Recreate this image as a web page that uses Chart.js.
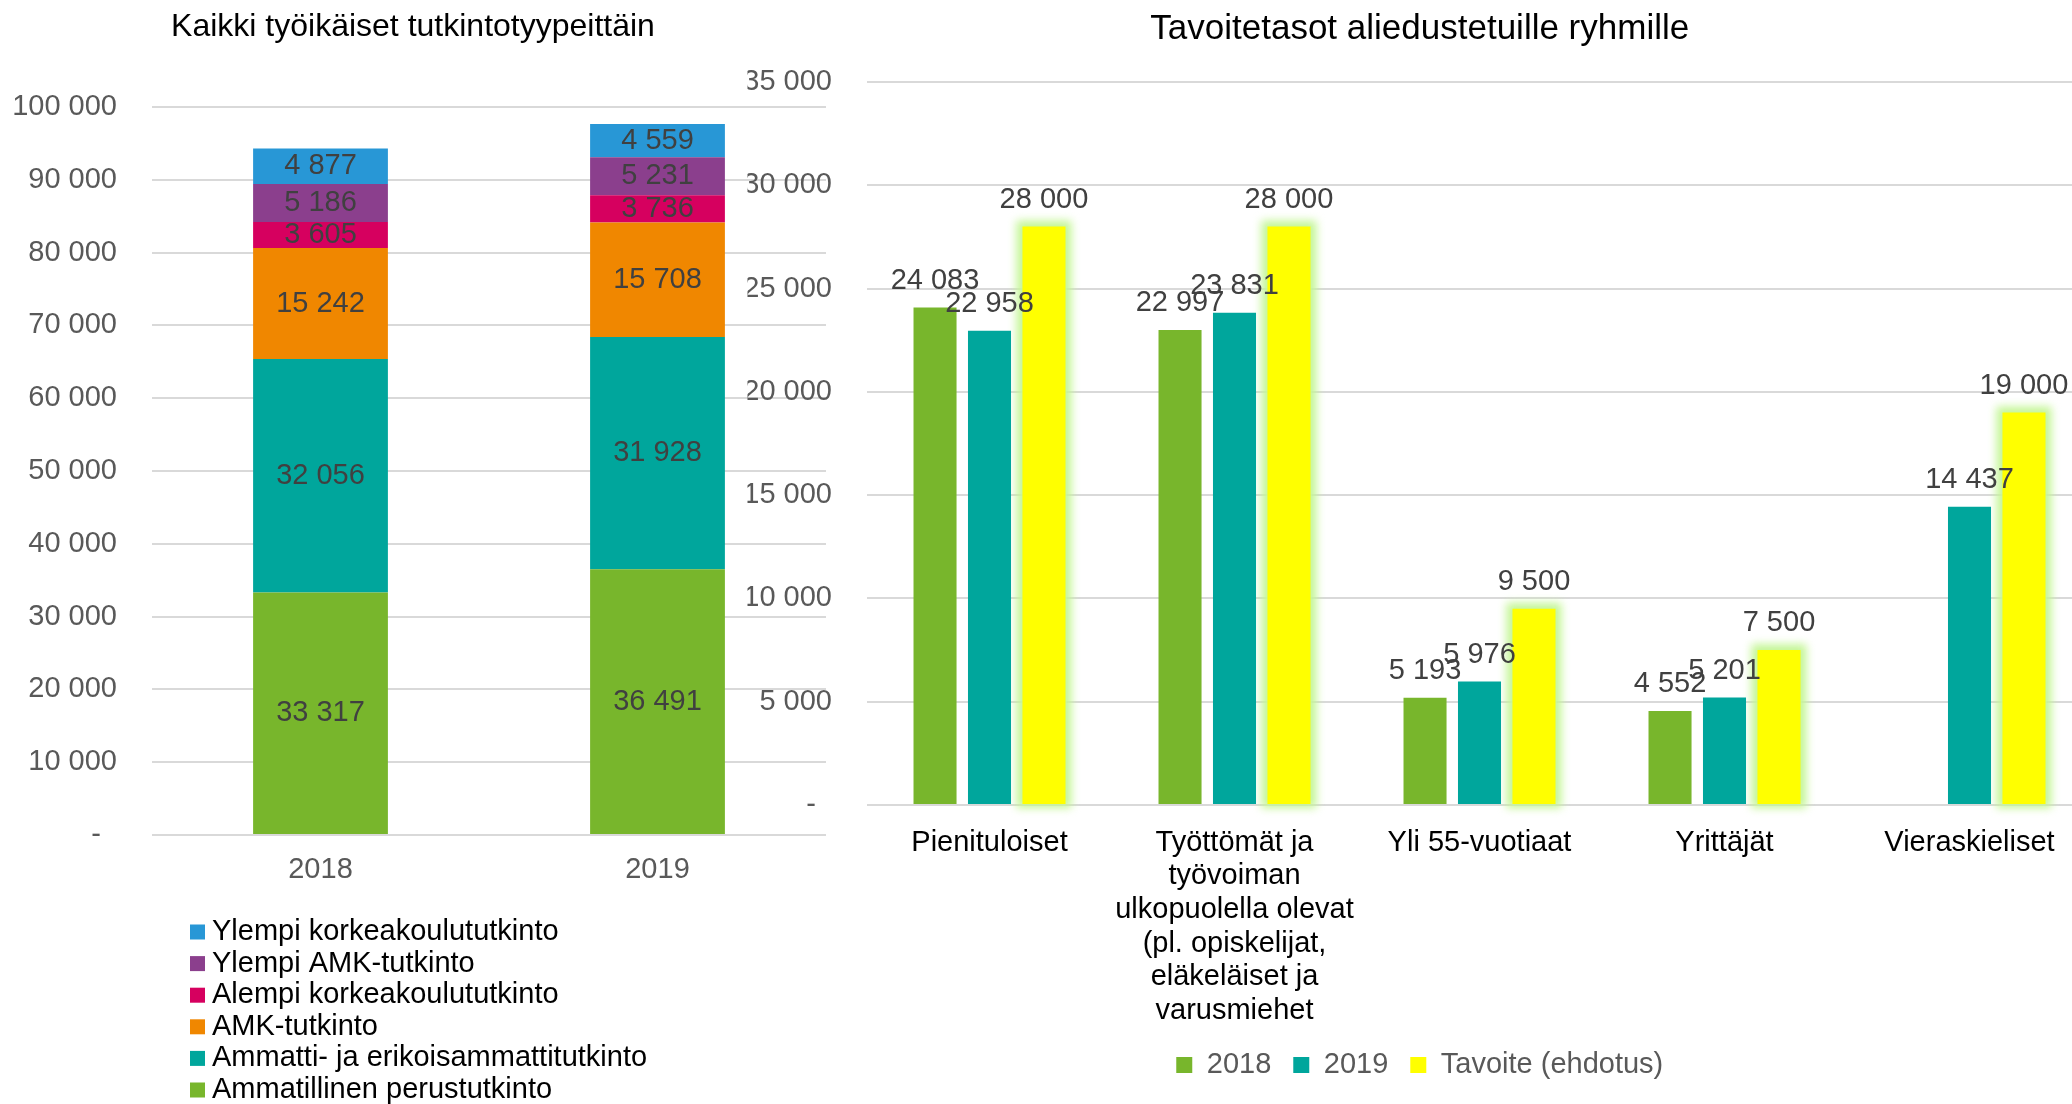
<!DOCTYPE html>
<html>
<head>
<meta charset="utf-8">
<script src="https://cdn.jsdelivr.net/npm/chart.js@4.4.1/dist/chart.umd.min.js"></script>
<style>
  html, body { margin: 0; padding: 0; background: #fff; }
  body { width: 2072px; height: 1104px; overflow: hidden; position: relative; }
  #left { position: absolute; left: 0; top: 0; }
  #right { position: absolute; left: 720px; top: 0; }
</style>
</head>
<body>
<canvas id="left" width="826" height="1104"></canvas>
<canvas id="right" width="1372" height="1104"></canvas>
<script>
// left chart: all working-age people by degree type
const years = ["2018", "2019"];
const perustutkinto = [33317, 36491];
const erikoisammatti = [32056, 31928];
const amkTutkinto = [15242, 15708];
const alempiKk = [3605, 3736];
const ylempiAmk = [5186, 5231];
const ylempiKk = [4877, 4559];

// right chart: target levels for under-represented groups
const groups = [
  ["Pienituloiset"],
  ["Työttömät ja", "työvoiman", "ulkopuolella olevat", "(pl. opiskelijat,", "eläkeläiset ja", "varusmiehet"],
  ["Yli 55-vuotiaat"],
  ["Yrittäjät"],
  ["Vieraskieliset"]
];
const v2018 = [24083, 22997, 5193, 4552, null];
const v2019 = [22958, 23831, 5976, 5201, 14437];
const tavoite = [28000, 28000, 9500, 7500, 19000];

const FONT = '"Liberation Sans", Arial, sans-serif';
const GREEN = "#78b62c";
const TEAL = "#00a69c";
const YELLOW = "#ffff00";
const GRID = "#d9d9d9";
const TICK = "#595959";

function fmt(v) {
  return String(v).replace(/\B(?=(\d{3})+(?!\d))/g, " ");
}
function tickFmt(v) {
  return v === 0 ? "-  " : fmt(v);
}

const valueLabels = {
  id: "valueLabels",
  afterDatasetsDraw(chart, args, opts) {
    const ctx = chart.ctx;
    ctx.save();
    ctx.font = "29px " + FONT;
    ctx.fillStyle = "#404040";
    ctx.textAlign = "center";
    ctx.textBaseline = "middle";
    chart.data.datasets.forEach((ds, i) => {
      chart.getDatasetMeta(i).data.forEach((bar, j) => {
        const v = ds.data[j];
        if (v == null) return;
        const y = opts.inside ? (bar.y + bar.base) / 2 : bar.y - opts.offset;
        ctx.fillText(fmt(v), bar.x, y);
      });
    });
    ctx.restore();
  }
};

// soft light-green halo behind the target bars
const glow = {
  id: "glow",
  beforeDatasetDraw(chart, args) {
    if (args.index !== 2) return;
    const ctx = chart.ctx;
    ctx.save();
    ctx.filter = "blur(4px)";
    ctx.fillStyle = "rgb(196,246,150)";
    args.meta.data.forEach((bar) => {
      const { x, y, base, width } = bar.getProps(["x", "y", "base", "width"], true);
      ctx.fillRect(x - width / 2 - 6, y - 6, width + 12, base - y + 10);
    });
    ctx.restore();
  }
};

// vertical legend under the stacked chart, top segment first
const listLegend = {
  id: "listLegend",
  afterDraw(chart, args, opts) {
    const ctx = chart.ctx;
    ctx.save();
    ctx.font = "29px " + FONT;
    ctx.textAlign = "left";
    ctx.textBaseline = "middle";
    chart.data.datasets.slice().reverse().forEach((ds, k) => {
      const y = opts.top + k * opts.step;
      ctx.fillStyle = ds.backgroundColor;
      ctx.fillRect(opts.x, y - 7.5, 15, 15);
      ctx.fillStyle = "#000";
      ctx.fillText(ds.label, opts.x + 22, y);
    });
    ctx.restore();
  }
};

new Chart(document.getElementById("left"), {
  type: "bar",
  data: {
    labels: years,
    datasets: [
      { label: "Ammatillinen perustutkinto", data: perustutkinto, backgroundColor: GREEN },
      { label: "Ammatti- ja erikoisammattitutkinto", data: erikoisammatti, backgroundColor: TEAL },
      { label: "AMK-tutkinto", data: amkTutkinto, backgroundColor: "#f08700" },
      { label: "Alempi korkeakoulututkinto", data: alempiKk, backgroundColor: "#d6005f" },
      { label: "Ylempi AMK-tutkinto", data: ylempiAmk, backgroundColor: "#8b3f8d" },
      { label: "Ylempi korkeakoulututkinto", data: ylempiKk, backgroundColor: "#2897d6" }
    ]
  },
  options: {
    responsive: false,
    animation: false,
    layout: { padding: 0 },
    datasets: { bar: { categoryPercentage: 1, barPercentage: 0.4, borderWidth: 0 } },
    scales: {
      x: {
        stacked: true,
        grid: { display: false },
        border: { display: false },
        ticks: { color: TICK, font: { family: FONT, size: 29 }, padding: 10 },
        afterFit(scale) { scale.height = 269; }
      },
      y: {
        stacked: true,
        min: 0,
        max: 100000,
        grid: { color: GRID, lineWidth: 2, drawTicks: false },
        border: { display: false },
        ticks: { stepSize: 10000, color: TICK, font: { family: FONT, size: 29 }, padding: 35, callback: tickFmt },
        afterFit(scale) { scale.width = 152; }
      }
    },
    plugins: {
      legend: { display: false },
      tooltip: { enabled: false },
      title: {
        display: true,
        text: "Kaikki työikäiset tutkintotyypeittäin",
        color: "#000",
        font: { family: FONT, size: 32, weight: "normal" },
        padding: { top: 8, bottom: 60.6 }
      },
      valueLabels: { inside: true },
      listLegend: { x: 190, top: 932, step: 31.6 }
    }
  },
  plugins: [valueLabels, listLegend]
});

new Chart(document.getElementById("right"), {
  type: "bar",
  data: {
    labels: groups,
    datasets: [
      { label: "2018", data: v2018, backgroundColor: GREEN },
      { label: "2019", data: v2019, backgroundColor: TEAL },
      { label: "Tavoite (ehdotus)", data: tavoite, backgroundColor: YELLOW }
    ]
  },
  options: {
    responsive: false,
    animation: false,
    layout: { padding: { left: 27.5, right: 0, top: 0, bottom: 14.5 } },
    datasets: { bar: { categoryPercentage: 0.667, barPercentage: 0.79, borderWidth: 0 } },
    scales: {
      x: {
        grid: { display: false },
        border: { display: false },
        ticks: {
          color: "#000",
          font: { family: FONT, size: 29, lineHeight: 1.16 },
          padding: 13,
          autoSkip: false,
          maxRotation: 0
        },
        afterFit(scale) { scale.height = 223.5; }
      },
      y: {
        min: 0,
        max: 35000,
        grid: { color: GRID, lineWidth: 2, drawTicks: false },
        border: { display: false },
        ticks: { stepSize: 5000, color: TICK, font: { family: FONT, size: 29 }, padding: 35, callback: tickFmt },
        afterFit(scale) { scale.width = 119.5; }
      }
    },
    plugins: {
      legend: {
        position: "bottom",
        labels: {
          color: TICK,
          font: { family: FONT, size: 29 },
          boxWidth: 16,
          boxHeight: 16,
          padding: 22
        }
      },
      tooltip: { enabled: false },
      title: {
        display: true,
        text: "Tavoitetasot aliedustetuille ryhmille",
        color: "#000",
        font: { family: FONT, size: 35, weight: "normal" },
        padding: { top: 8, bottom: 32 }
      },
      valueLabels: { inside: false, offset: 27 }
    }
  },
  plugins: [glow, valueLabels]
});
</script>
</body>
</html>
